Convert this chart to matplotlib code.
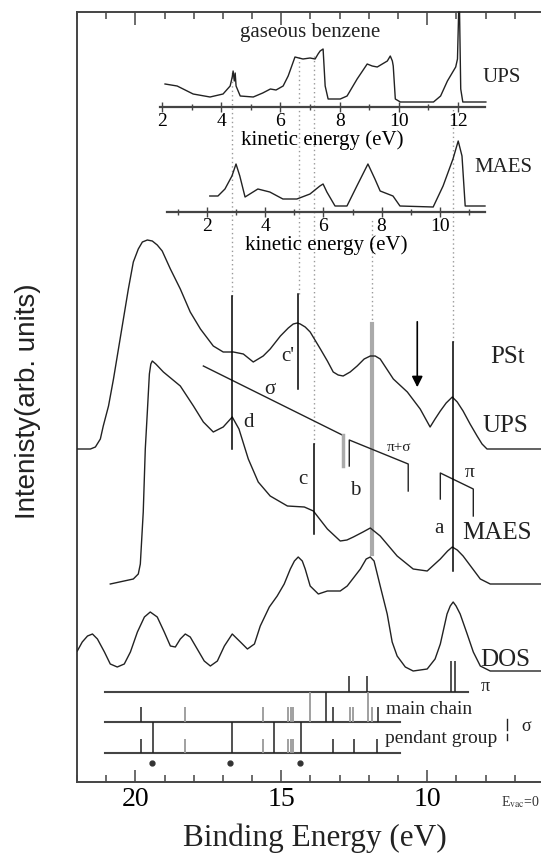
import matplotlib
matplotlib.use('Agg')
import matplotlib.pyplot as plt
from matplotlib.ticker import FixedLocator

plt.rcParams['font.family'] = ['Liberation Serif', 'DejaVu Serif']
plt.rcParams['mathtext.fontset'] = 'stix'

W, H = 541, 854

# ---------------- main spectra (binding energy in eV, intensity arb. units with offsets)
ups_be = [21.99, 21.54, 21.37, 21.20, 21.10, 20.92, 20.75, 20.58, 20.41, 20.24, 20.07, 19.90,
          19.76, 19.59, 19.42, 19.25, 19.08, 18.80, 18.46, 18.12, 17.77, 17.33, 16.99, 16.64,
          16.30, 15.96, 15.62, 15.38, 15.03, 14.76, 14.59, 14.45, 14.35, 14.18, 14.01, 13.66,
          13.42, 13.22, 13.05, 12.88, 12.64, 12.40, 12.16, 11.95, 11.78, 11.61, 11.16, 10.68,
          10.24, 9.90, 9.73, 9.55, 9.35, 9.14, 8.97, 8.77, 8.53, 8.29, 8.12, 7.95, 6.10]
ups_int = [33.3, 33.3, 33.5, 34.3, 35.6, 37.6, 40.3, 43.3, 46.3, 49.3, 52.0, 53.3,
           54.0, 54.2, 54.1, 53.7, 53.1, 51.3, 49.3, 47.0, 45.3, 43.6, 43.0, 43.0,
           42.8, 42.0, 42.6, 43.3, 44.6, 45.4, 45.8, 45.9, 45.8, 45.5, 45.0, 43.3,
           42.1, 41.0, 40.7, 40.6, 41.0, 41.6, 42.3, 42.6, 42.6, 42.3, 40.3, 39.0,
           37.3, 35.5, 36.3, 37.1, 37.9, 38.5, 38.0, 37.1, 35.8, 34.6, 33.8, 33.3, 33.3]

maes_be = [20.86, 20.07, 19.90, 19.83, 19.73, 19.66, 19.59, 19.52, 19.47, 19.42, 19.30, 19.04,
           18.46, 18.01, 17.67, 17.33, 16.99, 16.68, 16.45, 16.13, 15.79, 15.38, 14.79, 14.21,
           13.90, 13.42, 12.98, 12.75, 12.53, 12.20, 11.95, 11.61, 11.03, 10.48, 10.00, 9.55,
           9.30, 9.14, 8.97, 8.77, 8.18, 7.84, 6.10]
maes_int = [19.8, 20.3, 20.8, 21.8, 27.0, 33.3, 37.0, 40.8, 41.8, 42.1, 41.8, 41.0,
            39.6, 37.6, 36.0, 35.0, 35.5, 36.5, 35.3, 32.3, 30.0, 28.6, 27.6, 27.5,
            27.1, 25.3, 24.1, 24.2, 24.5, 25.0, 25.4, 24.6, 22.6, 21.3, 21.1, 22.3,
            23.1, 23.5, 23.2, 22.6, 20.3, 19.8, 19.8]

dos_be = [21.99, 21.82, 21.64, 21.47, 21.30, 21.06, 20.86, 20.62, 20.38, 20.17, 19.93, 19.69,
          19.49, 19.25, 19.01, 18.80, 18.63, 18.46, 18.29, 18.12, 17.88, 17.64, 17.43, 17.19,
          16.95, 16.68, 16.40, 16.16, 15.92, 15.72, 15.41, 15.14, 14.90, 14.69, 14.55, 14.42,
          14.28, 14.18, 14.01, 13.73, 13.42, 12.98, 12.74, 12.29, 12.09, 11.95, 11.82, 11.61,
          11.37, 11.20, 11.03, 10.75, 10.48, 10.00, 9.73, 9.55, 9.32, 9.21, 9.11, 9.01, 8.87,
          8.63, 8.42, 8.18, 7.84, 6.10]
dos_int = [13.1, 14.0, 14.6, 14.8, 14.3, 13.0, 11.8, 11.5, 11.8, 13.0, 15.0, 16.5,
           17.0, 16.5, 15.0, 13.6, 13.5, 14.3, 14.8, 14.5, 13.3, 12.1, 11.6, 12.1,
           13.6, 14.8, 14.0, 13.3, 13.8, 15.6, 17.5, 18.6, 19.8, 21.3, 22.1, 22.5,
           22.1, 21.3, 19.6, 18.8, 19.1, 19.1, 19.6, 21.3, 22.3, 22.5, 22.1, 19.6,
           16.8, 14.0, 12.6, 11.5, 11.1, 11.3, 12.3, 13.8, 16.8, 17.6, 18.0, 17.6, 16.8,
           14.8, 13.0, 11.6, 11.1, 11.1]

# ---------------- gaseous benzene insets (kinetic energy in eV)
gas_ups_ke = [2.10, 2.51, 3.05, 3.62, 4.06, 4.30, 4.37, 4.40, 4.44, 4.47, 4.50, 4.64,
              5.08, 5.40, 5.66, 5.85, 6.09, 6.26, 6.49, 6.76, 7.00, 7.17, 7.27, 7.34,
              7.44, 7.51, 7.61, 8.02, 8.25, 8.59, 8.93, 9.10, 9.27, 9.44, 9.61, 9.71,
              9.78, 9.81, 9.88, 10.05, 11.17, 11.41, 11.64, 11.92, 11.98, 12.02, 12.05,
              12.09, 12.16, 12.94]
gas_ups_int = [23, 21, 13, 10, 13, 21, 30, 36, 26, 34, 21, 11,
               10, 14, 18, 17, 21, 31, 50, 48, 49, 48, 53, 56,
               58, 21, 8, 8, 11, 28, 43, 41, 40, 43, 46, 51,
               46, 41, 8, 5, 5, 11, 26, 40, 48, 95, 95,
               18, 5, 5]

gas_maes_ke = [2.10, 2.38, 2.62, 2.86, 3.00, 3.13, 3.31, 3.75, 4.16, 4.61, 5.09, 5.54,
               5.88, 5.99, 6.12, 6.40, 6.81, 7.15, 7.53, 7.77, 7.95, 8.39, 8.63, 9.77,
               10.11, 10.45, 10.63, 10.76, 10.87, 11.55]
gas_maes_int = [16, 16, 23, 36, 48, 36, 15, 23, 20, 13, 13, 18,
                26, 28, 20, 6, 6, 26, 48, 33, 21, 16, 6, 5,
                26, 53, 71, 56, 6, 6]

# ---------------- calculated levels (binding energy, eV)
pi_short = [12.67, 12.05]
pi_long = [9.18, 9.04]
main_short_black = [19.79, 13.22, 11.68]
main_short_gray = [18.29, 15.62, 14.76, 14.67, 14.59, 12.64, 12.53, 11.88]
main_long_black = [13.46]
main_long_gray = [14.01, 12.02]
pend_short_black = [19.79, 13.22, 12.50, 11.71]
pend_short_gray = [18.29, 15.62, 14.76, 14.67, 14.59]
pend_long_black = [19.38, 16.68, 15.24, 14.32]
star_be = [19.42, 16.75, 14.36]

# feature markers
peak_black = [16.68, 14.42, 9.12, 13.87]
peak_black_y0 = [33.3, 39.3, 21.1, 24.8]
peak_black_y1 = [48.6, 48.8, 44.0, 33.8]
peak_gray = 11.88
dotted_be = [16.68, 14.38, 13.87, 11.88, 9.10]
dotted_top = [71.0, 72.6, 72.6, 56.3, 67.3]
dotted_bot = [48.6, 48.8, 33.8, 45.8, 44.0]

fig = plt.figure(figsize=(W / 100, H / 100), dpi=100)
LC = '#222222'

ax = fig.add_axes([77 / W, 1 - 783 / H, (W - 77) / W, (783 - 13) / H])
ax.set_xlim(22.0, 6.1)
ax.set_ylim(0, 77)
ax.spines['right'].set_visible(False)
for s in ['left', 'top', 'bottom']:
    ax.spines[s].set_linewidth(1.4)
    ax.spines[s].set_color('#444444')
ax.set_yticks([])
ax.xaxis.set_major_locator(FixedLocator([20, 15, 10]))
ax.xaxis.set_minor_locator(FixedLocator(list(range(7, 23))))
ax.tick_params(axis='x', which='both', direction='in', top=True, bottom=True,
               color='#444444', width=1.1)
ax.tick_params(axis='x', which='major', length=9, labelsize=20, pad=3)
ax.tick_params(axis='x', which='minor', length=5)
ax.set_xticklabels(['20', '15', '10'])

# dotted guide lines
for b, t, bo in zip(dotted_be, dotted_top, dotted_bot):
    ax.plot([b, b], [bo, t], color='#999999', lw=1.0, ls=(0, (1, 2.2)), zorder=1)

ax.plot(ups_be, ups_int, color=LC, lw=1.0, zorder=3)
ax.plot(maes_be, maes_int, color=LC, lw=1.0, zorder=3)
ax.plot(dos_be, dos_int, color=LC, lw=1.0, zorder=3)

for b, y0, y1 in zip(peak_black, peak_black_y0, peak_black_y1):
    ax.plot([b, b], [y0, y1], color='black', lw=1.1, zorder=4)
ax.plot([peak_gray, peak_gray], [22.8, 45.8], color='#aaaaaa', lw=3.0, zorder=2)

# arrow
ax.annotate('', xy=(10.34, 39.2), xytext=(10.34, 46.3),
            arrowprops=dict(arrowstyle='-|>', color='black', lw=1.2, mutation_scale=16))

# sigma line and brackets
ax.plot([17.67, 12.91], [41.6, 34.7], color=LC, lw=1.0)
ax.plot([12.88, 12.88], [31.6, 34.7], color='#aaaaaa', lw=2.5)
ax.plot([12.67, 12.67, 10.65, 10.65], [31.6, 34.2, 31.8, 29.1], color=LC, lw=1.0)
ax.plot([9.55, 9.55, 8.42, 8.42], [28.3, 30.9, 29.3, 26.6], color=LC, lw=1.0)

# labels on curves
tk = dict(ha='center', va='center', color='#222222')
ax.text(14.79, 42.6, "c'", fontsize=15, **tk)
ax.text(15.38, 39.3, 'σ', fontsize=15, **tk)
ax.text(16.12, 36.0, 'd', fontsize=15, **tk)
ax.text(10.98, 33.5, 'π+σ', fontsize=11, **tk)
ax.text(14.25, 30.3, 'c', fontsize=15, **tk)
ax.text(12.47, 29.2, 'b', fontsize=15, **tk)
ax.text(8.55, 31.0, 'π', fontsize=14, **tk)
ax.text(9.60, 25.4, 'a', fontsize=15, **tk)
ax.text(7.26, 42.6, 'PSt', fontsize=18, **tk)
ax.text(7.33, 35.7, 'UPS', fontsize=18, **tk)
ax.text(7.60, 25.0, 'MAES', fontsize=18, **tk)
ax.text(7.33, 12.3, 'DOS', fontsize=18, **tk)

# stick diagrams
ax.plot([21.03, 8.6], [9.0, 9.0], color='#444444', lw=1.5)
ax.plot([21.03, 10.92], [6.0, 6.0], color='#444444', lw=1.5)
ax.plot([21.03, 10.92], [2.9, 2.9], color='#444444', lw=1.5)
ax.vlines(pi_short, 9.0, 10.6, color=LC, lw=1.1)
ax.vlines(pi_long, 9.0, 12.1, color=LC, lw=1.1)
ax.vlines(main_short_black, 6.0, 7.5, color=LC, lw=1.1)
ax.vlines(main_short_gray, 6.0, 7.5, color='#999999', lw=1.3)
ax.vlines(main_long_black, 6.0, 9.0, color=LC, lw=1.1)
ax.vlines(main_long_gray, 6.0, 9.0, color='#999999', lw=1.3)
ax.vlines(pend_short_black, 2.9, 4.3, color=LC, lw=1.1)
ax.vlines(pend_short_gray, 2.9, 4.3, color='#999999', lw=1.3)
ax.vlines(pend_long_black, 2.9, 6.0, color=LC, lw=1.1)
ax.plot(star_be, [1.9] * len(star_be), 'o', color='#333333', ms=3.5)
ax.text(8.0, 9.6, 'π', fontsize=13, **tk)
ax.text(11.4, 7.3, 'main chain', fontsize=14, ha='left', va='center', color='#222222')
ax.text(11.45, 4.4, 'pendant group', fontsize=14, ha='left', va='center', color='#222222')
ax.plot([7.26, 7.26], [5.2, 6.3], color=LC, lw=1.0)
ax.plot([7.26, 7.26], [4.2, 4.8], color=LC, lw=1.0)
ax.text(6.6, 5.6, 'σ', fontsize=13, **tk)

# ---------------- insets
def style_inset(a, xlim, ylim, majors, minors):
    a.set_xlim(*xlim)
    a.set_ylim(*ylim)
    a.patch.set_alpha(0)
    for s in ['left', 'right', 'top']:
        a.spines[s].set_visible(False)
    a.spines['bottom'].set_linewidth(1.6)
    a.spines['bottom'].set_color('#444444')
    a.set_yticks([])
    a.xaxis.set_major_locator(FixedLocator(majors))
    a.xaxis.set_minor_locator(FixedLocator(minors))
    a.tick_params(axis='x', which='both', direction='inout', color='#444444', width=1.0)
    a.tick_params(axis='x', which='major', length=7, labelsize=14, pad=0)
    a.tick_params(axis='x', which='minor', length=5)
    a.set_xlabel('kinetic energy (eV)', fontsize=15, labelpad=0)

ax1 = fig.add_axes([160 / W, 1 - 108 / H, (485 - 160) / W, (108 - 13) / H])
style_inset(ax1, (1.93, 12.91), (0, 95), [2, 4, 6, 8, 10, 12], [3, 5, 7, 9, 11])
ax1.plot(gas_ups_ke, gas_ups_int, color=LC, lw=1.0, clip_on=False)

ax2 = fig.add_axes([167 / W, 1 - 213 / H, (485 - 167) / W, (213 - 120) / H])
style_inset(ax2, (0.63, 11.55), (0, 93), [2, 4, 6, 8, 10], [1, 3, 5, 7, 9, 11])
ax2.plot(gas_maes_ke, gas_maes_int, color=LC, lw=1.0, clip_on=False)

fig.text(310 / W, 1 - 33 / H, 'gaseous benzene', fontsize=15, ha='center', va='center', color='#222222')
fig.text(502 / W, 1 - 78 / H, 'UPS', fontsize=15, ha='center', va='center', color='#222222')
fig.text(503 / W, 1 - 167 / H, 'MAES', fontsize=15, ha='center', va='center', color='#222222')

# axis titles
fig.text(28 / W, 1 - 401 / H, 'Intenisty(arb. units)', rotation=90, fontsize=20,
         family=['Liberation Sans', 'DejaVu Sans'], ha='center', va='center', color='#222222')
fig.text(315 / W, 1 - 838 / H, 'Binding Energy (eV)', fontsize=22.5, ha='center', va='center',
         color='#222222')
fig.text(520 / W, 1 - 802 / H, r'E$_{\mathrm{vac}}$=0', fontsize=10, ha='center', va='center',
         color='#333333')

fig.savefig('out.png', dpi=100)
